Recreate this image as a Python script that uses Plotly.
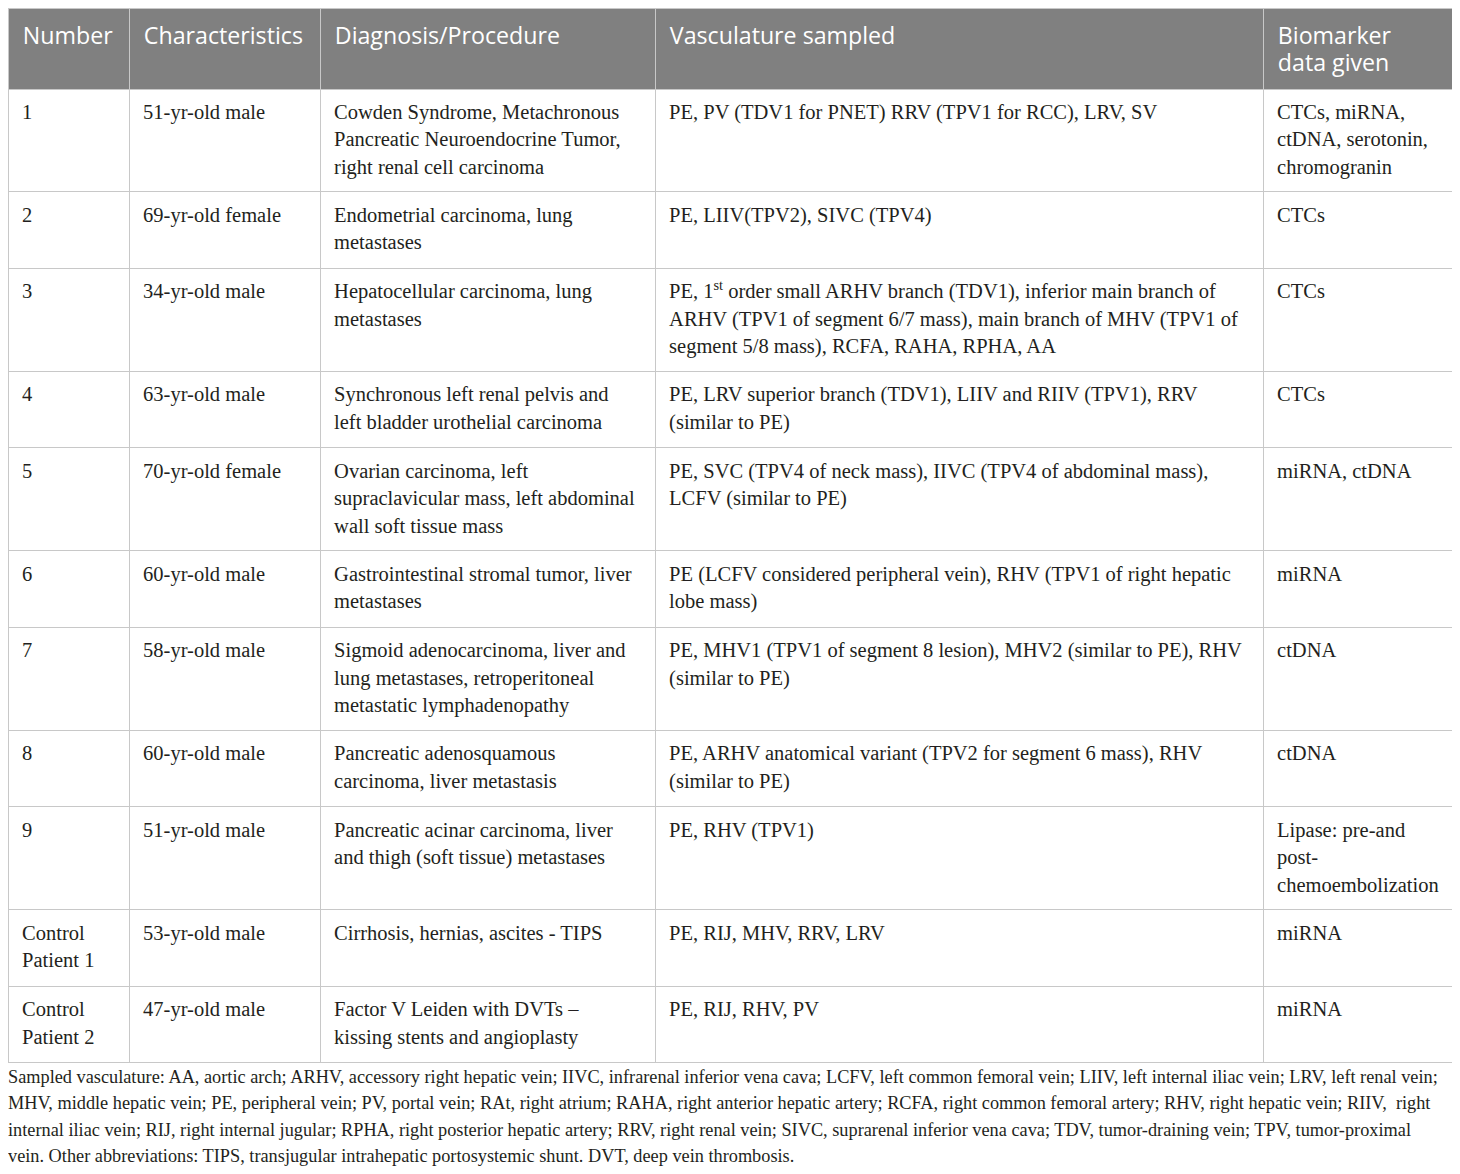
import plotly.graph_objects as go

header = ["Number", "Characteristics", "Diagnosis/Procedure",
          "Vasculature sampled", "Biomarker<br>data given"]

number = ["1", "2", "3", "4", "5", "6", "7", "8", "9",
          "Control<br>Patient 1", "Control<br>Patient 2"]

characteristics = ["51-yr-old male", "69-yr-old female", "34-yr-old male",
                   "63-yr-old male", "70-yr-old female", "60-yr-old male",
                   "58-yr-old male", "60-yr-old male", "51-yr-old male",
                   "53-yr-old male", "47-yr-old male"]

diagnosis = [
    "Cowden Syndrome, Metachronous<br>Pancreatic Neuroendocrine Tumor,<br>right renal cell carcinoma",
    "Endometrial carcinoma, lung<br>metastases",
    "Hepatocellular carcinoma, lung<br>metastases",
    "Synchronous left renal pelvis and<br>left bladder urothelial carcinoma",
    "Ovarian carcinoma, left<br>supraclavicular mass, left abdominal<br>wall soft tissue mass",
    "Gastrointestinal stromal tumor, liver<br>metastases",
    "Sigmoid adenocarcinoma, liver and<br>lung metastases, retroperitoneal<br>metastatic lymphadenopathy",
    "Pancreatic adenosquamous<br>carcinoma, liver metastasis",
    "Pancreatic acinar carcinoma, liver<br>and thigh (soft tissue) metastases",
    "Cirrhosis, hernias, ascites - TIPS",
    "Factor V Leiden with DVTs \u2013<br>kissing stents and angioplasty",
]

vasculature = [
    "PE, PV (TDV1 for PNET) RRV (TPV1 for RCC), LRV, SV",
    "PE, LIIV(TPV2), SIVC (TPV4)",
    "PE, 1<sup>st</sup> order small ARHV branch (TDV1), inferior main branch of<br>ARHV (TPV1 of segment 6/7 mass), main branch of MHV (TPV1 of<br>segment 5/8 mass), RCFA, RAHA, RPHA, AA",
    "PE, LRV superior branch (TDV1), LIIV and RIIV (TPV1), RRV<br>(similar to PE)",
    "PE, SVC (TPV4 of neck mass), IIVC (TPV4 of abdominal mass),<br>LCFV (similar to PE)",
    "PE (LCFV considered peripheral vein), RHV (TPV1 of right hepatic<br>lobe mass)",
    "PE, MHV1 (TPV1 of segment 8 lesion), MHV2 (similar to PE), RHV<br>(similar to PE)",
    "PE, ARHV anatomical variant (TPV2 for segment 6 mass), RHV<br>(similar to PE)",
    "PE, RHV (TPV1)",
    "PE, RIJ, MHV, RRV, LRV",
    "PE, RIJ, RHV, PV",
]

biomarker = [
    "CTCs, miRNA,<br>ctDNA, serotonin,<br>chromogranin",
    "CTCs", "CTCs", "CTCs", "miRNA, ctDNA", "miRNA", "ctDNA", "ctDNA",
    "Lipase: pre-and<br>post-<br>chemoembolization",
    "miRNA", "miRNA",
]

footnote = [
    "Sampled vasculature: AA, aortic arch; ARHV, accessory right hepatic vein; IIVC, infrarenal inferior vena cava; LCFV, left common femoral vein; LIIV, left internal iliac vein; LRV, left renal vein;",
    "MHV, middle hepatic vein; PE, peripheral vein; PV, portal vein; RAt, right atrium; RAHA, right anterior hepatic artery; RCFA, right common femoral artery; RHV, right hepatic vein; RIIV,  right",
    "internal iliac vein; RIJ, right internal jugular; RPHA, right posterior hepatic artery; RRV, right renal vein; SIVC, suprarenal inferior vena cava; TDV, tumor-draining vein; TPV, tumor-proximal",
    "vein. Other abbreviations: TIPS, transjugular intrahepatic portosystemic shunt. DVT, deep vein thrombosis.",
]

W, H = 1460, 1174
GRID = "#c8c8c8"
INK = "#231f20"
NBSP = "\u00a0"

# text sizes; the *_step sizes only set the line spacing (1.3em)
BODY, BODY_STEP, BODY_LEAD, BODY_TAIL = 20.5, 21.15, 24.3, 48
HEAD, HEAD_STEP, HEAD_LEAD = 23.2, 20.8, 26.2
NOTE, NOTE_STEP = 18.3, 20.2


def span(size, s):
    return f'<span style="font-size:{size}px">{s}</span>'


def cell(text, n, size, lead, tail=None):
    # pad every cell to the row's line count, with a lead space for the
    # inner margin and an optional tall blank that sets the bottom margin
    lines = text.split("<br>")
    lines += [""] * (n - len(lines))
    out = []
    for i, line in enumerate(lines):
        part = span(lead, NBSP) + (span(size, line) if line else "")
        if tail and i == n - 1:
            part += span(tail, NBSP)
        out.append(part)
    return "<br>".join(out)


columns = [number, characteristics, diagnosis, vasculature, biomarker]
row_lines = [max(len(col[r].split("<br>")) for col in columns)
             for r in range(len(number))]
head_lines = max(len(h.split("<br>")) for h in header)

fig = go.Figure(go.Table(
    domain=dict(x=[0, 1444 / W], y=[1 - 1068 / H, 1]),
    columnwidth=[121, 191, 335, 608, 189],
    header=dict(
        values=[cell(h, head_lines, HEAD, HEAD_LEAD) for h in header],
        fill_color="#808080",
        line=dict(color=GRID, width=1),
        font=dict(family="Open Sans", size=HEAD_STEP, color="white"),
        align="left",
        height=81,
    ),
    cells=dict(
        values=[[cell(v, n, BODY, BODY_LEAD, BODY_TAIL)
                 for v, n in zip(col, row_lines)] for col in columns],
        fill_color="white",
        line=dict(color=GRID, width=1),
        font=dict(family="Liberation Serif", size=BODY_STEP, color=INK),
        align="left",
        height=76.5,
    ),
))

fig.add_annotation(
    text="<br>".join(span(NOTE, line) for line in footnote),
    xref="paper", yref="paper", x=0, y=1 - 1057 / H, xshift=-2,
    xanchor="left", yanchor="top", align="left", showarrow=False,
    font=dict(family="Liberation Serif", size=NOTE_STEP, color=INK),
)

fig.update_layout(
    width=W, height=H,
    margin=dict(l=0, r=0, t=0, b=0),
    paper_bgcolor="white",
)

fig.write_html("out.html")
